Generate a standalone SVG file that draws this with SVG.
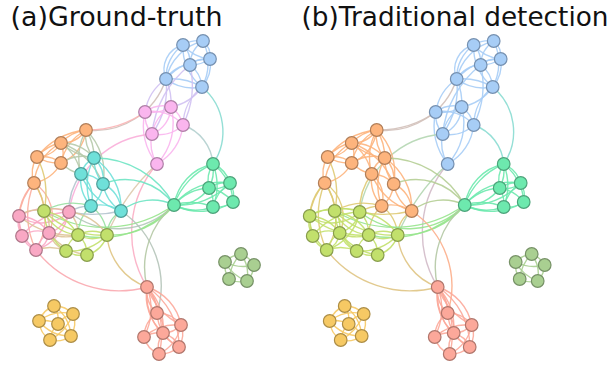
<svg xmlns="http://www.w3.org/2000/svg" width="613" height="365" viewBox="0 0 613 365">
<style>
.title{font-family:"DejaVu Sans","Liberation Sans",sans-serif;font-size:26.5px;fill:#111}
.edges path{fill:none;stroke-width:1.4;stroke-opacity:.9}
circle{stroke-width:1.2}
.nb{fill:#a7cdf6;stroke:#7590b0}.np{fill:#fab5ee;stroke:#af7fa7}.no{fill:#fdb47d;stroke:#b17e58}
.nc{fill:#6fe0d9;stroke:#4e9d98}.nm{fill:#6de9ae;stroke:#4ca37a}.nk{fill:#f9a8c4;stroke:#ae7689}
.nl{fill:#c2e06c;stroke:#889d4c}.ns{fill:#a9cf91;stroke:#769166}.ny{fill:#f6c964;stroke:#ac8d46}
.nr{fill:#fca89a;stroke:#b0766c}
.b{stroke:#a7cdf6}.p{stroke:#fab5ee}.o{stroke:#fdb47d}.c{stroke:#6fe0d9}.m{stroke:#6de9ae}
.k{stroke:#f9a8c4}.l{stroke:#c2e06c}.s{stroke:#a9cf91}.y{stroke:#f6c964}.r{stroke:#fca89a}
.bp{stroke:#d0c1f2}.bm{stroke:#8adbd2}.bo{stroke:#d2c0b9}.op{stroke:#fbb4b5}.pm{stroke:#b3cfce}
.pk{stroke:#f9aed9}.pr{stroke:#fbaec4}.pl{stroke:#decaad}.oc{stroke:#b6caab}.ok{stroke:#fbaea0}
.ol{stroke:#dfca74}.cm{stroke:#6ee4c3}.cl{stroke:#98e0a2}.ck{stroke:#b4c4ce}.km{stroke:#b3c8b9}
.lm{stroke:#97e48d}.kl{stroke:#ddc498}.kr{stroke:#faa8af}.lr{stroke:#dfc483}.cr{stroke:#b5c4b9}
.mr{stroke:#b4c8a4}
#b-edges .p,#b-edges .bp{stroke:#a7cdf6}
#b-edges .pm{stroke:#8adbd2}
#b-edges .op{stroke:#d2c0b9}
#b-edges .pk,#b-edges .pl{stroke:#b4d6b1}
#b-edges .pr{stroke:#d1bac8}
#b-edges .oc,#b-edges .c{stroke:#fdb47d}
#b-edges .ok,#b-edges .cl,#b-edges .ck{stroke:#dfca74}
#b-edges .cm{stroke:#b5ce95}
#b-edges .km{stroke:#97e48d}
#b-edges .k,#b-edges .kl{stroke:#c2e06c}
#b-edges .kr{stroke:#dfc483}
#b-edges .cr{stroke:#fcae8b}
</style>
<rect width="613" height="365" fill="#fff"/>
<text class="title" x="10.5" y="26" textLength="212" lengthAdjust="spacingAndGlyphs">(a)Ground-truth</text>
<text class="title" x="301.5" y="26" textLength="307" lengthAdjust="spacingAndGlyphs">(b)Traditional detection</text>

<g id="a-edges" class="edges">
<path class="b" d="M166,79A40,40 0 0,1 183,45"/><path class="b" d="M166,79A25,25 0 0,1 183,45"/><path class="b" d="M166,79A50,50 0 0,1 203,41"/><path class="b" d="M166,79A60,60 0 0,1 210,59"/><path class="b" d="M166,79A30,30 0 0,1 190,65"/><path class="b" d="M166,79A45,45 0 0,0 202,87"/><path class="b" d="M166,79A60,60 0 0,1 202,87"/><path class="b" d="M183,45A30,30 0 0,1 203,41"/><path class="b" d="M183,45A25,25 0 0,1 190,65"/><path class="b" d="M183,45A40,40 0 0,0 210,59"/><path class="b" d="M203,41A20,20 0 0,1 210,59"/><path class="b" d="M203,41A30,30 0 0,0 190,65"/><path class="b" d="M210,59A25,25 0 0,0 190,65"/><path class="b" d="M210,59A35,35 0 0,1 190,65"/><path class="b" d="M190,65A30,30 0 0,1 202,87"/><path class="b" d="M210,59A35,35 0 0,1 202,87"/><path class="b" d="M203,41A50,50 0 0,1 202,87"/><path class="b" d="M183,45A50,50 0 0,0 202,87"/>
<path class="bp" d="M166,79A50,50 0 0,0 145,112"/><path class="bp" d="M166,79A60,60 0 0,1 171,107"/><path class="bp" d="M166,79A80,80 0 0,1 152,134"/><path class="bp" d="M202,87A50,50 0 0,1 171,107"/><path class="bp" d="M202,87A50,50 0 0,0 183,125"/><path class="bp" d="M190,65A90,90 0 0,1 183,125"/><path class="bp" d="M190,65A100,100 0 0,0 152,134"/>
<path class="bm" d="M202,87A58,58 0 0,1 213,164"/>
<path class="bo" d="M166,79A75,75 0 0,1 86,130"/>
<path class="op" d="M86,130A100,100 0 0,0 145,112"/>
<path class="p" d="M145,112A30,30 0 0,1 171,107"/><path class="p" d="M145,112A40,40 0 0,0 171,107"/><path class="p" d="M145,112A40,40 0 0,1 183,125"/><path class="p" d="M145,112A30,30 0 0,0 152,134"/><path class="p" d="M171,107A40,40 0 0,0 152,134"/><path class="p" d="M171,107A30,30 0 0,1 152,134"/><path class="p" d="M171,107A30,30 0 0,1 183,125"/><path class="p" d="M183,125A35,35 0 0,1 152,134"/><path class="p" d="M152,134A40,40 0 0,0 157,164"/><path class="p" d="M145,112A60,60 0 0,0 157,164"/><path class="p" d="M171,107A60,60 0 0,1 157,164"/><path class="p" d="M183,125A50,50 0 0,1 157,164"/>
<path class="pm" d="M183,125A45,45 0 0,1 213,164"/>
<path class="pk" d="M152,134A91,91 0 0,0 69,212"/>
<path class="pr" d="M157,164A105,105 0 0,0 147,287"/>
<path class="pl" d="M157,164A200,200 0 0,0 107,235"/>
<path class="o" d="M86,130A40,40 0 0,0 61,143"/><path class="o" d="M86,130A30,30 0 0,1 61,143"/><path class="o" d="M86,130A40,40 0 0,1 61,163"/><path class="o" d="M86,130A50,50 0 0,0 61,163"/><path class="o" d="M61,143A40,40 0 0,0 37,157"/><path class="o" d="M61,143A30,30 0 0,1 37,157"/><path class="o" d="M61,143A25,25 0 0,1 61,163"/><path class="o" d="M37,157A30,30 0 0,1 61,163"/><path class="o" d="M37,157A40,40 0 0,0 61,163"/><path class="o" d="M37,157A30,30 0 0,0 34,183"/><path class="o" d="M61,163A40,40 0 0,1 34,183"/><path class="o" d="M86,130A70,70 0 0,0 37,157"/><path class="o" d="M61,143A50,50 0 0,0 34,183"/>
<path class="oc" d="M86,130A50,50 0 0,1 94,158"/><path class="oc" d="M86,130A35,35 0 0,0 94,158"/><path class="oc" d="M61,143A40,40 0 0,1 94,158"/><path class="oc" d="M61,143A60,60 0 0,0 94,158"/><path class="oc" d="M61,163A40,40 0 0,1 94,158"/><path class="oc" d="M61,143A50,50 0 0,1 81,174"/><path class="oc" d="M61,163A40,40 0 0,0 81,174"/><path class="oc" d="M86,130A60,60 0 0,0 81,174"/><path class="oc" d="M86,130A60,60 0 0,1 103,184"/><path class="oc" d="M61,143A70,70 0 0,1 103,184"/>
<path class="ok" d="M34,183A60,60 0 0,0 19,216"/><path class="ok" d="M34,183A40,40 0 0,1 49,233"/><path class="ok" d="M34,183A60,60 0 0,1 36,250"/><path class="ok" d="M34,183A50,50 0 0,0 22,236"/><path class="ok" d="M34,183A80,80 0 0,0 36,250"/>
<path class="ol" d="M37,157A80,80 0 0,1 44,211"/><path class="ol" d="M34,183A50,50 0 0,1 44,211"/>
<path class="c" d="M94,158A25,25 0 0,0 81,174"/><path class="c" d="M94,158A30,30 0 0,1 103,184"/><path class="c" d="M94,158A40,40 0 0,0 103,184"/><path class="c" d="M81,174A30,30 0 0,1 103,184"/><path class="c" d="M81,174A40,40 0 0,0 91,206"/><path class="c" d="M81,174A30,30 0 0,1 91,206"/><path class="c" d="M103,184A30,30 0 0,1 91,206"/><path class="c" d="M103,184A30,30 0 0,1 121,211"/><path class="c" d="M103,184A40,40 0 0,0 121,211"/><path class="c" d="M94,158A60,60 0 0,0 91,206"/><path class="c" d="M91,206A40,40 0 0,1 121,211"/><path class="c" d="M81,174A60,60 0 0,0 121,211"/><path class="c" d="M94,158A60,60 0 0,1 121,211"/>
<path class="cm" d="M103,184A59,59 0 0,1 174,205"/><path class="cm" d="M121,211A50,50 0 0,1 174,205"/><path class="cm" d="M94,158A90,90 0 0,1 174,205"/>
<path class="cl" d="M91,206A40,40 0 0,0 78,235"/><path class="cl" d="M91,206A40,40 0 0,1 107,235"/><path class="cl" d="M121,211A30,30 0 0,0 107,235"/><path class="cl" d="M91,206A60,60 0 0,0 44,211"/>
<path class="ck" d="M81,174A60,60 0 0,0 69,212"/><path class="ck" d="M91,206A40,40 0 0,0 69,212"/><path class="ck" d="M121,211A120,120 0 0,1 69,212"/>
<path class="km" d="M69,212A79,79 0 0,0 174,205"/>
<path class="lm" d="M107,235A80,80 0 0,0 174,205"/><path class="lm" d="M44,211A120,120 0 0,0 174,205"/><path class="lm" d="M78,235A100,100 0 0,0 174,205"/>
<path class="m" d="M213,164A30,30 0 0,0 209,188"/><path class="m" d="M213,164A40,40 0 0,1 209,188"/><path class="m" d="M213,164A30,30 0 0,1 230,183"/><path class="m" d="M213,164A50,50 0 0,1 233,202"/><path class="m" d="M213,164A60,60 0 0,1 213,207"/><path class="m" d="M213,164A50,50 0 0,0 174,205"/><path class="m" d="M213,164A70,70 0 0,0 174,205"/><path class="m" d="M209,188A30,30 0 0,1 230,183"/><path class="m" d="M209,188A25,25 0 0,0 230,183"/><path class="m" d="M209,188A40,40 0 0,1 233,202"/><path class="m" d="M209,188A30,30 0 0,1 213,207"/><path class="m" d="M230,183A25,25 0 0,1 233,202"/><path class="m" d="M233,202A30,30 0 0,1 213,207"/><path class="m" d="M230,183A40,40 0 0,0 213,207"/><path class="m" d="M174,205A50,50 0 0,1 209,188"/><path class="m" d="M174,205A40,40 0 0,0 209,188"/><path class="m" d="M174,205A60,60 0 0,1 230,183"/><path class="m" d="M174,205A70,70 0 0,0 230,183"/><path class="m" d="M174,205A60,60 0 0,0 233,202"/><path class="m" d="M174,205A50,50 0 0,0 213,207"/><path class="m" d="M174,205A60,60 0 0,1 213,207"/>
<path class="k" d="M19,216A25,25 0 0,0 22,236"/><path class="k" d="M19,216A40,40 0 0,1 49,233"/><path class="k" d="M19,216A40,40 0 0,0 36,250"/><path class="k" d="M19,216A60,60 0 0,1 69,212"/><path class="k" d="M19,216A40,40 0 0,0 69,212"/><path class="k" d="M22,236A30,30 0 0,1 49,233"/><path class="k" d="M22,236A25,25 0 0,0 36,250"/><path class="k" d="M49,233A20,20 0 0,1 36,250"/><path class="k" d="M49,233A30,30 0 0,0 36,250"/><path class="k" d="M49,233A30,30 0 0,0 69,212"/><path class="k" d="M36,250A50,50 0 0,0 69,212"/><path class="k" d="M22,236A60,60 0 0,1 69,212"/>
<path class="kl" d="M19,216A30,30 0 0,1 44,211"/><path class="kl" d="M44,211A30,30 0 0,1 49,233"/><path class="kl" d="M44,211A30,30 0 0,1 69,212"/><path class="kl" d="M69,212A30,30 0 0,1 78,235"/><path class="kl" d="M49,233A40,40 0 0,0 78,235"/><path class="kl" d="M49,233A30,30 0 0,0 66,251"/><path class="kl" d="M36,250A40,40 0 0,1 66,251"/><path class="kl" d="M69,212A50,50 0 0,1 107,235"/><path class="kl" d="M19,216A80,80 0 0,0 78,235"/><path class="kl" d="M49,233A60,60 0 0,0 87,255"/>
<path class="l" d="M44,211A40,40 0 0,0 78,235"/><path class="l" d="M44,211A50,50 0 0,1 78,235"/><path class="l" d="M78,235A30,30 0 0,1 107,235"/><path class="l" d="M78,235A30,30 0 0,0 107,235"/><path class="l" d="M78,235A25,25 0 0,0 66,251"/><path class="l" d="M78,235A25,25 0 0,1 87,255"/><path class="l" d="M107,235A30,30 0 0,1 87,255"/><path class="l" d="M66,251A30,30 0 0,0 87,255"/><path class="l" d="M44,211A50,50 0 0,0 66,251"/><path class="l" d="M107,235A50,50 0 0,1 66,251"/><path class="l" d="M44,211A80,80 0 0,0 107,235"/>
<path class="kr" d="M36,250A105,105 0 0,0 147,287"/>
<path class="lr" d="M107,235A60,60 0 0,0 147,287"/>
<path class="cr" d="M121,211A90,90 0 0,1 157,313"/>
<path class="mr" d="M174,205A81,81 0 0,0 147,287"/>
<path class="r" d="M147,287A40,40 0 0,1 157,313"/><path class="r" d="M147,287A30,30 0 0,0 157,313"/><path class="r" d="M147,287A50,50 0 0,1 181,325"/><path class="r" d="M147,287A70,70 0 0,0 181,325"/><path class="r" d="M147,287A60,60 0 0,1 163,333"/><path class="r" d="M147,287A50,50 0 0,0 163,333"/><path class="r" d="M147,287A70,70 0 0,1 179,347"/><path class="r" d="M147,287A60,60 0 0,0 179,347"/><path class="r" d="M147,287A80,80 0 0,1 159,354"/><path class="r" d="M147,287A60,60 0 0,1 144,337"/><path class="r" d="M157,313A30,30 0 0,1 181,325"/><path class="r" d="M157,313A25,25 0 0,1 163,333"/><path class="r" d="M157,313A30,30 0 0,0 144,337"/><path class="r" d="M181,325A25,25 0 0,1 163,333"/><path class="r" d="M181,325A25,25 0 0,1 179,347"/><path class="r" d="M163,333A30,30 0 0,0 144,337"/><path class="r" d="M163,333A25,25 0 0,1 179,347"/><path class="r" d="M163,333A25,25 0 0,0 159,354"/><path class="r" d="M144,337A25,25 0 0,0 159,354"/><path class="r" d="M179,347A30,30 0 0,1 159,354"/><path class="r" d="M181,325A40,40 0 0,1 159,354"/><path class="r" d="M157,313A40,40 0 0,0 179,347"/><path class="r" d="M144,337A50,50 0 0,1 181,325"/>
<path class="s" d="M225,262A25,25 0 0,1 241,254"/><path class="s" d="M241,254A25,25 0 0,1 254,265"/><path class="s" d="M254,265A25,25 0 0,1 247,281"/><path class="s" d="M247,281A25,25 0 0,1 229,279"/><path class="s" d="M229,279A25,25 0 0,1 225,262"/><path class="s" d="M225,262A40,40 0 0,0 254,265"/><path class="s" d="M241,254A40,40 0 0,0 229,279"/><path class="s" d="M241,254A35,35 0 0,1 247,281"/><path class="s" d="M225,262A40,40 0 0,0 247,281"/>
<path class="y" d="M54,306A25,25 0 0,1 73,314"/><path class="y" d="M54,306A25,25 0 0,0 39,321"/><path class="y" d="M54,306A25,25 0 0,1 58,324"/><path class="y" d="M73,314A25,25 0 0,1 71,336"/><path class="y" d="M73,314A25,25 0 0,0 58,324"/><path class="y" d="M39,321A25,25 0 0,0 50,340"/><path class="y" d="M39,321A30,30 0 0,1 58,324"/><path class="y" d="M58,324A25,25 0 0,1 71,336"/><path class="y" d="M58,324A25,25 0 0,0 50,340"/><path class="y" d="M71,336A25,25 0 0,1 50,340"/><path class="y" d="M54,306A40,40 0 0,1 71,336"/><path class="y" d="M39,321A40,40 0 0,1 73,314"/><path class="y" d="M73,314A50,50 0 0,1 50,340"/><path class="y" d="M39,321A40,40 0 0,0 71,336"/>
</g>

<g id="a-nodes">
<g id="a-B1"><circle class="nb" cx="183" cy="45" r="6.3"/></g>
<g id="a-B2"><circle class="nb" cx="203" cy="41" r="6.3"/></g>
<g id="a-B3"><circle class="nb" cx="210" cy="59" r="6.3"/></g>
<g id="a-B4"><circle class="nb" cx="190" cy="65" r="6.3"/></g>
<g id="a-B5"><circle class="nb" cx="166" cy="79" r="6.3"/></g>
<g id="a-B6"><circle class="nb" cx="202" cy="87" r="6.3"/></g>
<g id="a-P1"><circle class="np" cx="145" cy="112" r="6.3"/></g>
<g id="a-P2"><circle class="np" cx="171" cy="107" r="6.3"/></g>
<g id="a-P3"><circle class="np" cx="183" cy="125" r="6.3"/></g>
<g id="a-P4"><circle class="np" cx="152" cy="134" r="6.3"/></g>
<g id="a-P5"><circle class="np" cx="157" cy="164" r="6.3"/></g>
<g id="a-O1"><circle class="no" cx="86" cy="130" r="6.3"/></g>
<g id="a-O2"><circle class="no" cx="61" cy="143" r="6.3"/></g>
<g id="a-O3"><circle class="no" cx="37" cy="157" r="6.3"/></g>
<g id="a-O4"><circle class="no" cx="61" cy="163" r="6.3"/></g>
<g id="a-O5"><circle class="no" cx="34" cy="183" r="6.3"/></g>
<g id="a-C1"><circle class="nc" cx="94" cy="158" r="6.3"/></g>
<g id="a-C2"><circle class="nc" cx="81" cy="174" r="6.3"/></g>
<g id="a-C3"><circle class="nc" cx="103" cy="184" r="6.3"/></g>
<g id="a-C4"><circle class="nc" cx="91" cy="206" r="6.3"/></g>
<g id="a-C5"><circle class="nc" cx="121" cy="211" r="6.3"/></g>
<g id="a-M1"><circle class="nm" cx="213" cy="164" r="6.3"/></g>
<g id="a-M2"><circle class="nm" cx="209" cy="188" r="6.3"/></g>
<g id="a-M3"><circle class="nm" cx="230" cy="183" r="6.3"/></g>
<g id="a-M4"><circle class="nm" cx="233" cy="202" r="6.3"/></g>
<g id="a-M5"><circle class="nm" cx="213" cy="207" r="6.3"/></g>
<g id="a-M6"><circle class="nm" cx="174" cy="205" r="6.3"/></g>
<g id="a-K1"><circle class="nk" cx="19" cy="216" r="6.3"/></g>
<g id="a-K2"><circle class="nk" cx="22" cy="236" r="6.3"/></g>
<g id="a-K3"><circle class="nk" cx="49" cy="233" r="6.3"/></g>
<g id="a-K4"><circle class="nk" cx="36" cy="250" r="6.3"/></g>
<g id="a-K5"><circle class="nk" cx="69" cy="212" r="6.3"/></g>
<g id="a-L1"><circle class="nl" cx="44" cy="211" r="6.3"/></g>
<g id="a-L2"><circle class="nl" cx="78" cy="235" r="6.3"/></g>
<g id="a-L3"><circle class="nl" cx="107" cy="235" r="6.3"/></g>
<g id="a-L4"><circle class="nl" cx="66" cy="251" r="6.3"/></g>
<g id="a-L5"><circle class="nl" cx="87" cy="255" r="6.3"/></g>
<g id="a-S1"><circle class="ns" cx="225" cy="262" r="6.3"/></g>
<g id="a-S2"><circle class="ns" cx="241" cy="254" r="6.3"/></g>
<g id="a-S3"><circle class="ns" cx="254" cy="265" r="6.3"/></g>
<g id="a-S4"><circle class="ns" cx="247" cy="281" r="6.3"/></g>
<g id="a-S5"><circle class="ns" cx="229" cy="279" r="6.3"/></g>
<g id="a-Y1"><circle class="ny" cx="54" cy="306" r="6.3"/></g>
<g id="a-Y2"><circle class="ny" cx="73" cy="314" r="6.3"/></g>
<g id="a-Y3"><circle class="ny" cx="39" cy="321" r="6.3"/></g>
<g id="a-Y4"><circle class="ny" cx="58" cy="324" r="6.3"/></g>
<g id="a-Y5"><circle class="ny" cx="71" cy="336" r="6.3"/></g>
<g id="a-Y6"><circle class="ny" cx="50" cy="340" r="6.3"/></g>
<g id="a-R1"><circle class="nr" cx="147" cy="287" r="6.3"/></g>
<g id="a-R2"><circle class="nr" cx="157" cy="313" r="6.3"/></g>
<g id="a-R3"><circle class="nr" cx="181" cy="325" r="6.3"/></g>
<g id="a-R4"><circle class="nr" cx="163" cy="333" r="6.3"/></g>
<g id="a-R5"><circle class="nr" cx="144" cy="337" r="6.3"/></g>
<g id="a-R6"><circle class="nr" cx="179" cy="347" r="6.3"/></g>
<g id="a-R7"><circle class="nr" cx="159" cy="354" r="6.3"/></g>
</g>

<g id="b-edges" class="edges" transform="translate(290.7,0)">
<path class="b" d="M166,79A40,40 0 0,1 183,45"/><path class="b" d="M166,79A25,25 0 0,1 183,45"/><path class="b" d="M166,79A50,50 0 0,1 203,41"/><path class="b" d="M166,79A60,60 0 0,1 210,59"/><path class="b" d="M166,79A30,30 0 0,1 190,65"/><path class="b" d="M166,79A45,45 0 0,0 202,87"/><path class="b" d="M166,79A60,60 0 0,1 202,87"/><path class="b" d="M183,45A30,30 0 0,1 203,41"/><path class="b" d="M183,45A25,25 0 0,1 190,65"/><path class="b" d="M183,45A40,40 0 0,0 210,59"/><path class="b" d="M203,41A20,20 0 0,1 210,59"/><path class="b" d="M203,41A30,30 0 0,0 190,65"/><path class="b" d="M210,59A25,25 0 0,0 190,65"/><path class="b" d="M210,59A35,35 0 0,1 190,65"/><path class="b" d="M190,65A30,30 0 0,1 202,87"/><path class="b" d="M210,59A35,35 0 0,1 202,87"/><path class="b" d="M203,41A50,50 0 0,1 202,87"/><path class="b" d="M183,45A50,50 0 0,0 202,87"/>
<path class="bp" d="M166,79A50,50 0 0,0 145,112"/><path class="bp" d="M166,79A60,60 0 0,1 171,107"/><path class="bp" d="M166,79A80,80 0 0,1 152,134"/><path class="bp" d="M202,87A50,50 0 0,1 171,107"/><path class="bp" d="M202,87A50,50 0 0,0 183,125"/><path class="bp" d="M190,65A90,90 0 0,1 183,125"/><path class="bp" d="M190,65A100,100 0 0,0 152,134"/>
<path class="bm" d="M202,87A58,58 0 0,1 213,164"/>
<path class="bo" d="M166,79A75,75 0 0,1 86,130"/>
<path class="op" d="M86,130A100,100 0 0,0 145,112"/>
<path class="p" d="M145,112A30,30 0 0,1 171,107"/><path class="p" d="M145,112A40,40 0 0,0 171,107"/><path class="p" d="M145,112A40,40 0 0,1 183,125"/><path class="p" d="M145,112A30,30 0 0,0 152,134"/><path class="p" d="M171,107A40,40 0 0,0 152,134"/><path class="p" d="M171,107A30,30 0 0,1 152,134"/><path class="p" d="M171,107A30,30 0 0,1 183,125"/><path class="p" d="M183,125A35,35 0 0,1 152,134"/><path class="p" d="M152,134A40,40 0 0,0 157,164"/><path class="p" d="M145,112A60,60 0 0,0 157,164"/><path class="p" d="M171,107A60,60 0 0,1 157,164"/><path class="p" d="M183,125A50,50 0 0,1 157,164"/>
<path class="pm" d="M183,125A45,45 0 0,1 213,164"/>
<path class="pk" d="M152,134A91,91 0 0,0 69,212"/>
<path class="pr" d="M157,164A105,105 0 0,0 147,287"/>
<path class="pl" d="M157,164A200,200 0 0,0 107,235"/>
<path class="o" d="M86,130A40,40 0 0,0 61,143"/><path class="o" d="M86,130A30,30 0 0,1 61,143"/><path class="o" d="M86,130A40,40 0 0,1 61,163"/><path class="o" d="M86,130A50,50 0 0,0 61,163"/><path class="o" d="M61,143A40,40 0 0,0 37,157"/><path class="o" d="M61,143A30,30 0 0,1 37,157"/><path class="o" d="M61,143A25,25 0 0,1 61,163"/><path class="o" d="M37,157A30,30 0 0,1 61,163"/><path class="o" d="M37,157A40,40 0 0,0 61,163"/><path class="o" d="M37,157A30,30 0 0,0 34,183"/><path class="o" d="M61,163A40,40 0 0,1 34,183"/><path class="o" d="M86,130A70,70 0 0,0 37,157"/><path class="o" d="M61,143A50,50 0 0,0 34,183"/>
<path class="oc" d="M86,130A50,50 0 0,1 94,158"/><path class="oc" d="M86,130A35,35 0 0,0 94,158"/><path class="oc" d="M61,143A40,40 0 0,1 94,158"/><path class="oc" d="M61,143A60,60 0 0,0 94,158"/><path class="oc" d="M61,163A40,40 0 0,1 94,158"/><path class="oc" d="M61,143A50,50 0 0,1 81,174"/><path class="oc" d="M61,163A40,40 0 0,0 81,174"/><path class="oc" d="M86,130A60,60 0 0,0 81,174"/><path class="oc" d="M86,130A60,60 0 0,1 103,184"/><path class="oc" d="M61,143A70,70 0 0,1 103,184"/>
<path class="ok" d="M34,183A60,60 0 0,0 19,216"/><path class="ok" d="M34,183A40,40 0 0,1 49,233"/><path class="ok" d="M34,183A60,60 0 0,1 36,250"/><path class="ok" d="M34,183A50,50 0 0,0 22,236"/><path class="ok" d="M34,183A80,80 0 0,0 36,250"/>
<path class="ol" d="M37,157A80,80 0 0,1 44,211"/><path class="ol" d="M34,183A50,50 0 0,1 44,211"/>
<path class="c" d="M94,158A25,25 0 0,0 81,174"/><path class="c" d="M94,158A30,30 0 0,1 103,184"/><path class="c" d="M94,158A40,40 0 0,0 103,184"/><path class="c" d="M81,174A30,30 0 0,1 103,184"/><path class="c" d="M81,174A40,40 0 0,0 91,206"/><path class="c" d="M81,174A30,30 0 0,1 91,206"/><path class="c" d="M103,184A30,30 0 0,1 91,206"/><path class="c" d="M103,184A30,30 0 0,1 121,211"/><path class="c" d="M103,184A40,40 0 0,0 121,211"/><path class="c" d="M94,158A60,60 0 0,0 91,206"/><path class="c" d="M91,206A40,40 0 0,1 121,211"/><path class="c" d="M81,174A60,60 0 0,0 121,211"/><path class="c" d="M94,158A60,60 0 0,1 121,211"/>
<path class="cm" d="M103,184A59,59 0 0,1 174,205"/><path class="cm" d="M121,211A50,50 0 0,1 174,205"/><path class="cm" d="M94,158A90,90 0 0,1 174,205"/>
<path class="cl" d="M91,206A40,40 0 0,0 78,235"/><path class="cl" d="M91,206A40,40 0 0,1 107,235"/><path class="cl" d="M121,211A30,30 0 0,0 107,235"/><path class="cl" d="M91,206A60,60 0 0,0 44,211"/>
<path class="ck" d="M81,174A60,60 0 0,0 69,212"/><path class="ck" d="M91,206A40,40 0 0,0 69,212"/><path class="ck" d="M121,211A120,120 0 0,1 69,212"/>
<path class="km" d="M69,212A79,79 0 0,0 174,205"/>
<path class="lm" d="M107,235A80,80 0 0,0 174,205"/><path class="lm" d="M44,211A120,120 0 0,0 174,205"/><path class="lm" d="M78,235A100,100 0 0,0 174,205"/>
<path class="m" d="M213,164A30,30 0 0,0 209,188"/><path class="m" d="M213,164A40,40 0 0,1 209,188"/><path class="m" d="M213,164A30,30 0 0,1 230,183"/><path class="m" d="M213,164A50,50 0 0,1 233,202"/><path class="m" d="M213,164A60,60 0 0,1 213,207"/><path class="m" d="M213,164A50,50 0 0,0 174,205"/><path class="m" d="M213,164A70,70 0 0,0 174,205"/><path class="m" d="M209,188A30,30 0 0,1 230,183"/><path class="m" d="M209,188A25,25 0 0,0 230,183"/><path class="m" d="M209,188A40,40 0 0,1 233,202"/><path class="m" d="M209,188A30,30 0 0,1 213,207"/><path class="m" d="M230,183A25,25 0 0,1 233,202"/><path class="m" d="M233,202A30,30 0 0,1 213,207"/><path class="m" d="M230,183A40,40 0 0,0 213,207"/><path class="m" d="M174,205A50,50 0 0,1 209,188"/><path class="m" d="M174,205A40,40 0 0,0 209,188"/><path class="m" d="M174,205A60,60 0 0,1 230,183"/><path class="m" d="M174,205A70,70 0 0,0 230,183"/><path class="m" d="M174,205A60,60 0 0,0 233,202"/><path class="m" d="M174,205A50,50 0 0,0 213,207"/><path class="m" d="M174,205A60,60 0 0,1 213,207"/>
<path class="k" d="M19,216A25,25 0 0,0 22,236"/><path class="k" d="M19,216A40,40 0 0,1 49,233"/><path class="k" d="M19,216A40,40 0 0,0 36,250"/><path class="k" d="M19,216A60,60 0 0,1 69,212"/><path class="k" d="M19,216A40,40 0 0,0 69,212"/><path class="k" d="M22,236A30,30 0 0,1 49,233"/><path class="k" d="M22,236A25,25 0 0,0 36,250"/><path class="k" d="M49,233A20,20 0 0,1 36,250"/><path class="k" d="M49,233A30,30 0 0,0 36,250"/><path class="k" d="M49,233A30,30 0 0,0 69,212"/><path class="k" d="M36,250A50,50 0 0,0 69,212"/><path class="k" d="M22,236A60,60 0 0,1 69,212"/>
<path class="kl" d="M19,216A30,30 0 0,1 44,211"/><path class="kl" d="M44,211A30,30 0 0,1 49,233"/><path class="kl" d="M44,211A30,30 0 0,1 69,212"/><path class="kl" d="M69,212A30,30 0 0,1 78,235"/><path class="kl" d="M49,233A40,40 0 0,0 78,235"/><path class="kl" d="M49,233A30,30 0 0,0 66,251"/><path class="kl" d="M36,250A40,40 0 0,1 66,251"/><path class="kl" d="M69,212A50,50 0 0,1 107,235"/><path class="kl" d="M19,216A80,80 0 0,0 78,235"/><path class="kl" d="M49,233A60,60 0 0,0 87,255"/>
<path class="l" d="M44,211A40,40 0 0,0 78,235"/><path class="l" d="M44,211A50,50 0 0,1 78,235"/><path class="l" d="M78,235A30,30 0 0,1 107,235"/><path class="l" d="M78,235A30,30 0 0,0 107,235"/><path class="l" d="M78,235A25,25 0 0,0 66,251"/><path class="l" d="M78,235A25,25 0 0,1 87,255"/><path class="l" d="M107,235A30,30 0 0,1 87,255"/><path class="l" d="M66,251A30,30 0 0,0 87,255"/><path class="l" d="M44,211A50,50 0 0,0 66,251"/><path class="l" d="M107,235A50,50 0 0,1 66,251"/><path class="l" d="M44,211A80,80 0 0,0 107,235"/>
<path class="kr" d="M36,250A105,105 0 0,0 147,287"/>
<path class="lr" d="M107,235A60,60 0 0,0 147,287"/>
<path class="cr" d="M121,211A90,90 0 0,1 157,313"/>
<path class="mr" d="M174,205A81,81 0 0,0 147,287"/>
<path class="r" d="M147,287A40,40 0 0,1 157,313"/><path class="r" d="M147,287A30,30 0 0,0 157,313"/><path class="r" d="M147,287A50,50 0 0,1 181,325"/><path class="r" d="M147,287A70,70 0 0,0 181,325"/><path class="r" d="M147,287A60,60 0 0,1 163,333"/><path class="r" d="M147,287A50,50 0 0,0 163,333"/><path class="r" d="M147,287A70,70 0 0,1 179,347"/><path class="r" d="M147,287A60,60 0 0,0 179,347"/><path class="r" d="M147,287A80,80 0 0,1 159,354"/><path class="r" d="M147,287A60,60 0 0,1 144,337"/><path class="r" d="M157,313A30,30 0 0,1 181,325"/><path class="r" d="M157,313A25,25 0 0,1 163,333"/><path class="r" d="M157,313A30,30 0 0,0 144,337"/><path class="r" d="M181,325A25,25 0 0,1 163,333"/><path class="r" d="M181,325A25,25 0 0,1 179,347"/><path class="r" d="M163,333A30,30 0 0,0 144,337"/><path class="r" d="M163,333A25,25 0 0,1 179,347"/><path class="r" d="M163,333A25,25 0 0,0 159,354"/><path class="r" d="M144,337A25,25 0 0,0 159,354"/><path class="r" d="M179,347A30,30 0 0,1 159,354"/><path class="r" d="M181,325A40,40 0 0,1 159,354"/><path class="r" d="M157,313A40,40 0 0,0 179,347"/><path class="r" d="M144,337A50,50 0 0,1 181,325"/>
<path class="s" d="M225,262A25,25 0 0,1 241,254"/><path class="s" d="M241,254A25,25 0 0,1 254,265"/><path class="s" d="M254,265A25,25 0 0,1 247,281"/><path class="s" d="M247,281A25,25 0 0,1 229,279"/><path class="s" d="M229,279A25,25 0 0,1 225,262"/><path class="s" d="M225,262A40,40 0 0,0 254,265"/><path class="s" d="M241,254A40,40 0 0,0 229,279"/><path class="s" d="M241,254A35,35 0 0,1 247,281"/><path class="s" d="M225,262A40,40 0 0,0 247,281"/>
<path class="y" d="M54,306A25,25 0 0,1 73,314"/><path class="y" d="M54,306A25,25 0 0,0 39,321"/><path class="y" d="M54,306A25,25 0 0,1 58,324"/><path class="y" d="M73,314A25,25 0 0,1 71,336"/><path class="y" d="M73,314A25,25 0 0,0 58,324"/><path class="y" d="M39,321A25,25 0 0,0 50,340"/><path class="y" d="M39,321A30,30 0 0,1 58,324"/><path class="y" d="M58,324A25,25 0 0,1 71,336"/><path class="y" d="M58,324A25,25 0 0,0 50,340"/><path class="y" d="M71,336A25,25 0 0,1 50,340"/><path class="y" d="M54,306A40,40 0 0,1 71,336"/><path class="y" d="M39,321A40,40 0 0,1 73,314"/><path class="y" d="M73,314A50,50 0 0,1 50,340"/><path class="y" d="M39,321A40,40 0 0,0 71,336"/>
</g>

<g id="b-nodes" transform="translate(290.7,0)">
<g id="b-B1"><circle class="nb" cx="183" cy="45" r="6.3"/></g>
<g id="b-B2"><circle class="nb" cx="203" cy="41" r="6.3"/></g>
<g id="b-B3"><circle class="nb" cx="210" cy="59" r="6.3"/></g>
<g id="b-B4"><circle class="nb" cx="190" cy="65" r="6.3"/></g>
<g id="b-B5"><circle class="nb" cx="166" cy="79" r="6.3"/></g>
<g id="b-B6"><circle class="nb" cx="202" cy="87" r="6.3"/></g>
<g id="b-P1"><circle class="nb" cx="145" cy="112" r="6.3"/></g>
<g id="b-P2"><circle class="nb" cx="171" cy="107" r="6.3"/></g>
<g id="b-P3"><circle class="nb" cx="183" cy="125" r="6.3"/></g>
<g id="b-P4"><circle class="nb" cx="152" cy="134" r="6.3"/></g>
<g id="b-P5"><circle class="nb" cx="157" cy="164" r="6.3"/></g>
<g id="b-O1"><circle class="no" cx="86" cy="130" r="6.3"/></g>
<g id="b-O2"><circle class="no" cx="61" cy="143" r="6.3"/></g>
<g id="b-O3"><circle class="no" cx="37" cy="157" r="6.3"/></g>
<g id="b-O4"><circle class="no" cx="61" cy="163" r="6.3"/></g>
<g id="b-O5"><circle class="no" cx="34" cy="183" r="6.3"/></g>
<g id="b-C1"><circle class="no" cx="94" cy="158" r="6.3"/></g>
<g id="b-C2"><circle class="no" cx="81" cy="174" r="6.3"/></g>
<g id="b-C3"><circle class="no" cx="103" cy="184" r="6.3"/></g>
<g id="b-C4"><circle class="no" cx="91" cy="206" r="6.3"/></g>
<g id="b-C5"><circle class="no" cx="121" cy="211" r="6.3"/></g>
<g id="b-M1"><circle class="nm" cx="213" cy="164" r="6.3"/></g>
<g id="b-M2"><circle class="nm" cx="209" cy="188" r="6.3"/></g>
<g id="b-M3"><circle class="nm" cx="230" cy="183" r="6.3"/></g>
<g id="b-M4"><circle class="nm" cx="233" cy="202" r="6.3"/></g>
<g id="b-M5"><circle class="nm" cx="213" cy="207" r="6.3"/></g>
<g id="b-M6"><circle class="nm" cx="174" cy="205" r="6.3"/></g>
<g id="b-K1"><circle class="nl" cx="19" cy="216" r="6.3"/></g>
<g id="b-K2"><circle class="nl" cx="22" cy="236" r="6.3"/></g>
<g id="b-K3"><circle class="nl" cx="49" cy="233" r="6.3"/></g>
<g id="b-K4"><circle class="nl" cx="36" cy="250" r="6.3"/></g>
<g id="b-K5"><circle class="nl" cx="69" cy="212" r="6.3"/></g>
<g id="b-L1"><circle class="nl" cx="44" cy="211" r="6.3"/></g>
<g id="b-L2"><circle class="nl" cx="78" cy="235" r="6.3"/></g>
<g id="b-L3"><circle class="nl" cx="107" cy="235" r="6.3"/></g>
<g id="b-L4"><circle class="nl" cx="66" cy="251" r="6.3"/></g>
<g id="b-L5"><circle class="nl" cx="87" cy="255" r="6.3"/></g>
<g id="b-S1"><circle class="ns" cx="225" cy="262" r="6.3"/></g>
<g id="b-S2"><circle class="ns" cx="241" cy="254" r="6.3"/></g>
<g id="b-S3"><circle class="ns" cx="254" cy="265" r="6.3"/></g>
<g id="b-S4"><circle class="ns" cx="247" cy="281" r="6.3"/></g>
<g id="b-S5"><circle class="ns" cx="229" cy="279" r="6.3"/></g>
<g id="b-Y1"><circle class="ny" cx="54" cy="306" r="6.3"/></g>
<g id="b-Y2"><circle class="ny" cx="73" cy="314" r="6.3"/></g>
<g id="b-Y3"><circle class="ny" cx="39" cy="321" r="6.3"/></g>
<g id="b-Y4"><circle class="ny" cx="58" cy="324" r="6.3"/></g>
<g id="b-Y5"><circle class="ny" cx="71" cy="336" r="6.3"/></g>
<g id="b-Y6"><circle class="ny" cx="50" cy="340" r="6.3"/></g>
<g id="b-R1"><circle class="nr" cx="147" cy="287" r="6.3"/></g>
<g id="b-R2"><circle class="nr" cx="157" cy="313" r="6.3"/></g>
<g id="b-R3"><circle class="nr" cx="181" cy="325" r="6.3"/></g>
<g id="b-R4"><circle class="nr" cx="163" cy="333" r="6.3"/></g>
<g id="b-R5"><circle class="nr" cx="144" cy="337" r="6.3"/></g>
<g id="b-R6"><circle class="nr" cx="179" cy="347" r="6.3"/></g>
<g id="b-R7"><circle class="nr" cx="159" cy="354" r="6.3"/></g>
</g>
</svg>
